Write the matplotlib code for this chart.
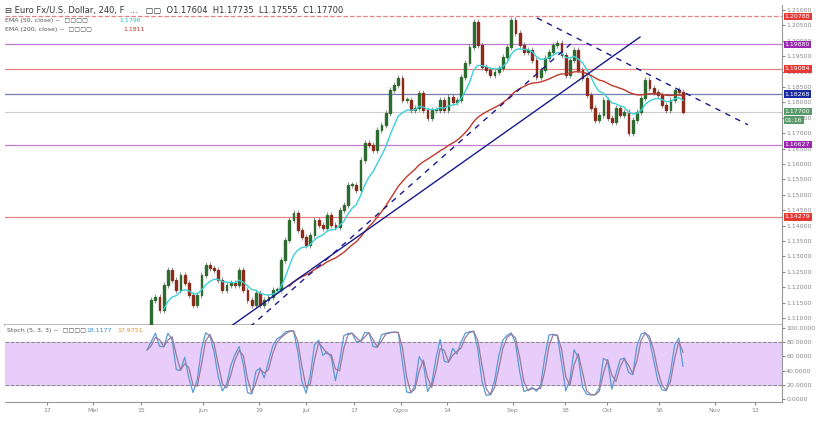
import numpy as np
import pandas as pd
import matplotlib
matplotlib.use("Agg")
import matplotlib.pyplot as plt
from matplotlib.patches import Rectangle

closes = [1.1071,1.1158,1.1168,1.1126,1.1207,1.1256,1.1223,1.1191,1.1240,1.1214,1.1175,1.1142,
          1.1175,1.1240,1.1272,1.1262,1.1256,1.1223,1.1191,1.1207,1.1214,1.1207,1.1256,1.1191,
          1.1158,1.1142,1.1181,1.1142,1.1158,1.1168,1.1191,1.1191,1.1288,1.1353,1.1418,1.1441,
          1.1386,1.1363,1.1337,1.1369,1.1418,1.1402,1.1392,1.1434,1.1402,1.1395,1.1451,1.1467,
          1.1532,1.1532,1.1516,1.1613,1.1668,1.1662,1.1645,1.1710,1.1727,1.1766,1.1840,1.1856,
          1.1879,1.1808,1.1808,1.1775,1.1782,1.1831,1.1775,1.1749,1.1775,1.1775,1.1808,1.1775,
          1.1818,1.1801,1.1808,1.1882,1.1928,1.1980,1.2061,1.1986,1.1915,1.1905,1.1889,1.1899,
          1.1912,1.1947,1.1980,1.2068,1.2025,1.1986,1.1964,1.1970,1.1938,1.1882,1.1905,1.1944,
          1.1964,1.1986,1.1993,1.1954,1.1889,1.1938,1.1970,1.1905,1.1879,1.1824,1.1782,1.1743,
          1.1759,1.1808,1.1749,1.1736,1.1782,1.1759,1.1769,1.1701,1.1743,1.1769,1.1814,1.1873,
          1.1847,1.1834,1.1824,1.1792,1.1775,1.1808,1.1840,1.1834,1.1770]
first_open = 1.1060

tick_px = [47, 93, 141, 203, 259, 306, 354, 401, 447, 513, 565, 607, 659, 715, 755]
tick_labels = ["17", "Mei", "15", "Jun", "19", "Jul", "17", "Ogos", "14", "Sep", "18", "Okt", "16", "Nov", "13"]

levels = [1.20788, 1.19880, 1.19084, 1.18268, 1.16627, 1.14279]
level_colors = ["#d32f2f", "#9c27b0", "#d32f2f", "#1a237e", "#9c27b0", "#d32f2f"]
level_box = ["#e53935", "#9c27b0", "#e53935", "#1a2aa0", "#9c27b0", "#e53935"]
level_styles = ["--", "-", "-", "-", "-", "-"]
last_price = 1.17700

solid_trend = [(1.1071, 230), (1.2012, 640)]
dashed_up = [(1.1071, 250), (1.1996, 573)]
dashed_down = [(1.2074, 537), (1.1727, 748)]

N = len(closes)
c = np.array(closes)
o = np.concatenate([[first_open], c[:-1]])
wick = 0.0009
h = np.maximum(o, c) + wick
l = np.minimum(o, c) - wick

step = (683 - 147) / (N - 1)
def px2i(p):
    return (p - 147) / step

fig = plt.figure(figsize=(8.2, 4.28), dpi=100)
ax = fig.add_axes([5/820, 1-325/428, 777/820, 320/428])
ax2 = fig.add_axes([5/820, 1-402/428, 777/820, 77/428], sharex=ax)

idx = np.arange(N)
for i in idx:
    col = "#2e6b30" if c[i] >= o[i] else "#8a2b1c"
    ax.vlines(i, l[i], h[i], color="#666666", lw=0.5, zorder=3)
    b0 = min(o[i], c[i]); bh = max(abs(c[i]-o[i]), 0.0002)
    ax.add_patch(Rectangle((i-0.22, b0), 0.44, bh, color=col, zorder=4))

s = pd.Series(c)
ema50 = s.ewm(span=9, adjust=False).mean()
ema200 = s.ewm(span=34, adjust=False).mean()
ax.plot(idx[4:], ema50[4:], color="#3cd0d8", lw=1.0, zorder=5)
ax.plot(idx[34:], ema200[34:], color="#c0392b", lw=1.0, zorder=5)

for lv, lc, ls in zip(levels, level_colors, level_styles):
    ax.axhline(lv, color=lc, lw=0.9, ls=ls, alpha=0.6, zorder=1)
ax.axhline(last_price, color="#cccccc", lw=0.8, zorder=1)

ax.plot([px2i(solid_trend[0][1]), px2i(solid_trend[1][1])], [solid_trend[0][0], solid_trend[1][0]], color="#1a1a8c", lw=1.0, zorder=6)
ax.plot([px2i(dashed_up[0][1]), px2i(dashed_up[1][1])], [dashed_up[0][0], dashed_up[1][0]], color="#1a1a8c", lw=1.0, ls=(0, (4, 4)), zorder=6)
ax.plot([px2i(dashed_down[0][1]), px2i(dashed_down[1][1])], [dashed_down[0][0], dashed_down[1][0]], color="#1a1a8c", lw=1.0, ls=(0, (4, 4)), zorder=6)

ax.set_ylim(1.1077, 1.2116)
ax.set_xlim(px2i(5), px2i(782))
ax.yaxis.tick_right()
yt = np.arange(1.110, 1.2101, 0.005)
ax.set_yticks(yt)
ax.set_yticklabels([f"{v:.5f}" for v in yt], fontsize=4.5, color="#666666")
ax.tick_params(axis="y", length=2, pad=1, colors="#888888")
ax.tick_params(axis="x", bottom=False, labelbottom=False)
for sp in ["top", "left"]:
    ax.spines[sp].set_visible(False)
ax.spines["right"].set_color("#999999")
ax.spines["bottom"].set_color("#bbbbbb")
ax.spines["bottom"].set_linewidth(1.5)

def box(axis, y, text, col):
    axis.annotate(text, xy=(1.0, y), xycoords=("axes fraction", "data"), xytext=(2, 0), textcoords="offset points",
                  fontsize=4.5, color="white", va="center", ha="left",
                  bbox=dict(boxstyle="square,pad=0.2", fc=col, ec="none"), annotation_clip=False, zorder=10)
for lv, bc in zip(levels, level_box):
    box(ax, lv, f"{lv:.5f}", bc)
box(ax, last_price, "1.17700", "#5a9a6a")
box(ax, 1.1742, "01:16", "#5a9a6a")

fig.text(0.006, 0.975, "⊟ Euro Fx/U.S. Dollar, 240, F  ...   ▢▢  O1.17604  H1.17735  L1.17555  C1.17700",
         fontsize=6, color="#333333", va="center")
fig.text(0.006, 0.952, "EMA (50, close) ~  ▢▢▢▢  ", fontsize=4.5, color="#555555", va="center")
fig.text(0.145, 0.952, "1.1796", fontsize=4.5, color="#20c0d0", va="center")
fig.text(0.006, 0.932, "EMA (200, close) ~  ▢▢▢▢  ", fontsize=4.5, color="#555555", va="center")
fig.text(0.150, 0.932, "1.1811", fontsize=4.5, color="#d03030", va="center")

lo5 = pd.Series(l).rolling(3, min_periods=1).min()
hi5 = pd.Series(h).rolling(3, min_periods=1).max()
raw = 100 * (s - lo5) / (hi5 - lo5)
k = raw.rolling(2, min_periods=1).mean()
d = k.rolling(2, min_periods=1).mean()
ax2.axhspan(20, 80, color="#e8cdfb", zorder=0)
ax2.axhline(80, color="#888888", lw=0.7, ls="--")
ax2.axhline(20, color="#888888", lw=0.7, ls="--")
ax2.plot(idx, k, color="#5b9bd5", lw=0.9)
ax2.plot(idx, d, color="#9a7a9a", lw=0.9)
ax2.set_ylim(-4, 104)
ax2.yaxis.tick_right()
ax2.set_yticks([0, 20, 40, 60, 80, 100])
ax2.set_yticklabels(["0.0000", "20.0000", "40.0000", "60.0000", "80.0000", "100.0000"], fontsize=4.5, color="#666666")
ax2.tick_params(axis="y", length=2, pad=1, colors="#888888")
ax2.set_xticks([px2i(p) for p in tick_px])
ax2.set_xticklabels(tick_labels, fontsize=4.5, color="#555555")
ax2.tick_params(axis="x", length=2, pad=2, colors="#888888")
for sp in ["top", "left"]:
    ax2.spines[sp].set_visible(False)
ax2.spines["right"].set_color("#999999")
ax2.spines["bottom"].set_color("#999999")
ax2.text(0.003, 0.93, "Stoch (5, 3, 3) ~  ▢▢▢▢ ", transform=ax2.transAxes, fontsize=4.5, color="#555555", va="center")
ax2.text(0.105, 0.93, "18.1177", transform=ax2.transAxes, fontsize=4.5, color="#3a8fd0", va="center")
ax2.text(0.145, 0.93, "17.9751", transform=ax2.transAxes, fontsize=4.5, color="#e0902a", va="center")

fig.savefig("out.png", dpi=100, facecolor="white")
